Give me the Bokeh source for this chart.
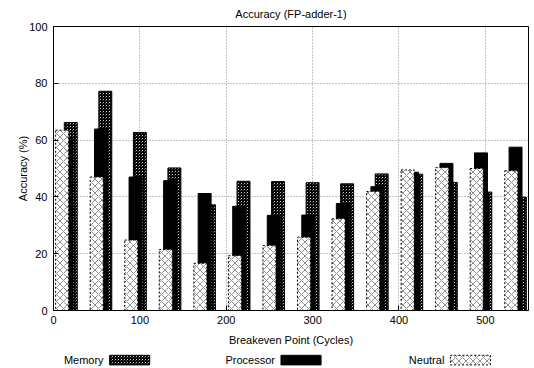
from bokeh.plotting import figure
from bokeh.models import Range1d, FixedTicker, ColumnDataSource
from bokeh.layouts import column
from bokeh.embed import file_html
from bokeh.resources import INLINE
from bokeh.core.properties import value

# ---- data ----
breakeven = [20, 60, 100, 140, 180, 220, 260, 300, 340, 380, 420, 460, 500, 540]
memory    = [66.2, 77.2, 62.7, 50.2, 37.2, 45.5, 45.4, 45.0, 44.6, 48.1, 48.0, 45.1, 41.7, 39.9]
processor = [60.8, 63.9, 47.0, 45.7, 41.2, 36.7, 33.5, 33.6, 37.7, 43.6, 48.7, 51.8, 55.5, 57.5]
neutral   = [63.5, 47.0, 24.8, 21.5, 16.6, 19.3, 22.9, 25.8, 32.3, 41.9, 49.5, 50.3, 50.0, 49.2]
series_names = ["Memory", "Processor", "Neutral"]
x_ticks = [0, 100, 200, 300, 400, 500]
y_ticks = [0, 20, 40, 60, 80, 100]

FONT = "Liberation Sans"
BAR_W = 15
OFFSETS = {"Memory": 0, "Processor": -5, "Neutral": -10}

p = figure(width=530, height=350, output_backend="svg", toolbar_location=None,
           x_range=Range1d(0, 550), y_range=Range1d(0, 100),
           title="Accuracy (FP-adder-1)",
           min_border_left=53, min_border_right=2, min_border_top=25, min_border_bottom=40)

p.title.align = "center"
p.title.vertical_align = "middle"
p.title.text_font = FONT
p.title.text_font_size = "11px"
p.title.text_font_style = "normal"
p.title.text_color = "black"
p.title.standoff = 12

p.outline_line_color = "black"
p.outline_line_width = 1
p.background_fill_color = "white"

xax = p.below[0]
yax = p.left[0]
for ax in (xax, yax):
    ax.major_label_text_font = FONT
    ax.major_label_text_font_size = "11px"
    ax.major_label_text_color = "black"
    ax.axis_label_text_font = FONT
    ax.axis_label_text_font_size = "11px"
    ax.axis_label_text_font_style = "normal"
    ax.axis_label_text_color = "black"
    ax.major_tick_in = 5
    ax.major_tick_out = 0
    ax.minor_tick_line_color = None
    ax.axis_line_color = "black"
    ax.major_tick_line_color = "black"

xax.ticker = FixedTicker(ticks=x_ticks)
yax.ticker = FixedTicker(ticks=y_ticks)
xax.axis_label = "Breakeven Point (Cycles)"
yax.axis_label = "Accuracy (%)"
xax.major_label_standoff = 5
xax.axis_label_standoff = 7
yax.major_label_standoff = 6
yax.axis_label_standoff = -3

p.grid.grid_line_color = "#888888"
p.grid.grid_line_dash = "1 2"
p.grid.grid_line_width = 1
p.xgrid.ticker = FixedTicker(ticks=[100, 200, 300, 400, 500])
p.ygrid.ticker = FixedTicker(ticks=[20, 40, 60, 80])

styles = {
    "Memory": dict(fill_color="white", hatch_pattern="criss_cross", hatch_scale=3,
                   hatch_weight=1.4, hatch_color="black", line_color="black", line_width=1),
    "Processor": dict(fill_color="black", line_color="black", line_width=1),
    "Neutral": dict(fill_color="white", hatch_pattern="diagonal_cross", hatch_scale=7,
                    hatch_weight=0.6, hatch_color="#444444", line_color="black",
                    line_width=1, line_dash="2 2"),
}
vals = {"Memory": memory, "Processor": processor, "Neutral": neutral}

for name in ["Memory", "Processor", "Neutral"]:
    src = ColumnDataSource(dict(x=[b + OFFSETS[name] for b in breakeven], top=vals[name]))
    p.vbar(x="x", top="top", bottom=0, width=BAR_W, source=src, **styles[name])

# ---- legend strip (x range in page pixels of the aligned frame) ----
leg = figure(width=530, height=16, output_backend="svg", toolbar_location=None,
             x_range=Range1d(54, 528), y_range=Range1d(0, 1),
             min_border_left=53, min_border_right=2, min_border_top=0, min_border_bottom=0)
leg.axis.visible = False
leg.grid.visible = False
leg.outline_line_color = None

sw_left = [110, 281, 450]
sw_w = 40
for i, name in enumerate(series_names):
    leg.text(x=[sw_left[i] - 6], y=[0.4], text=[name], text_font=value(FONT),
             text_font_size="11px", text_align="right", text_baseline="middle",
             text_color="black")
    st = dict(styles[name])
    leg.quad(left=[sw_left[i]], right=[sw_left[i] + sw_w], bottom=[0.1], top=[0.7], **st)

layout = column(p, leg, spacing=0)
open("out.html", "w").write(file_html(layout, INLINE))
